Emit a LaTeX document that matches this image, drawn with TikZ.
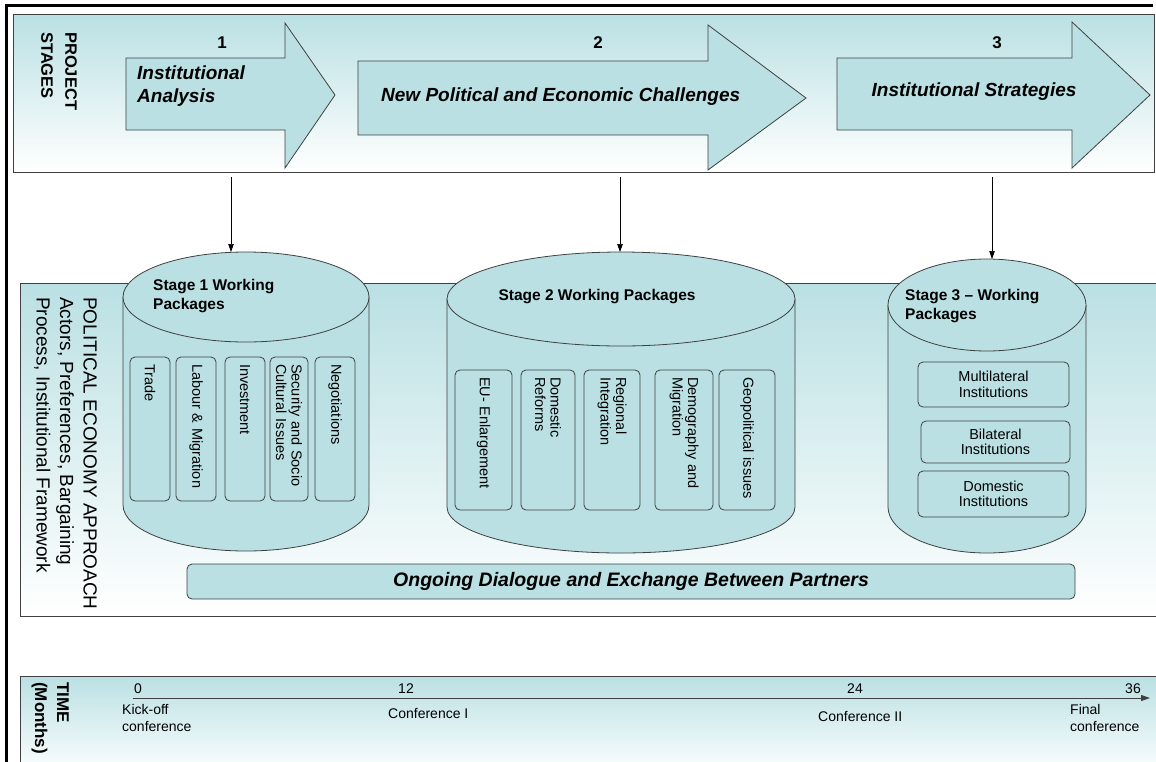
\documentclass[tikz,border=0pt]{standalone}
\usepackage{fontspec}
\setmainfont{Liberation Sans}
\usetikzlibrary{arrows.meta,positioning}

\definecolor{paleblue}{RGB}{186,224,227}
\definecolor{edgegray}{RGB}{64,64,64}

\tikzset{
  panel/.style={draw=edgegray, line width=0.9pt, top color=paleblue, bottom color=white},
  shapefill/.style={draw=edgegray, fill=paleblue, line width=0.8pt},
  pkg/.style={shapefill, rounded corners=5pt, inner sep=2pt, font=\fontsize{14.5}{15.5}\selectfont},
  vpkg/.style={pkg, rotate=-90, align=left, inner xsep=7pt},
  sidetext/.style={rotate=-90, anchor=north west, align=left, inner sep=0pt},
  stagetext/.style={font=\fontsize{19}{22.5}\selectfont\bfseries\itshape, inner sep=0pt},
  stagenum/.style={font=\fontsize{17}{20}\selectfont\bfseries, inner sep=0pt},
  drumtitle/.style={font=\fontsize{15.5}{18.5}\selectfont\bfseries, align=left, inner sep=0pt},
  timetext/.style={font=\fontsize{14}{17}\selectfont, align=left, inner sep=0pt},
  flow/.style={-{Triangle[length=8pt,width=5.5pt]}, line width=0.7pt},
}

\begin{document}
\begin{tikzpicture}[x=1pt,y=-1pt]
  \useasboundingbox (0,0) rectangle (1156,761);
  \clip (0,0) rectangle (1156,761);

  % the three bands
  \draw[panel] (13,14) rectangle (1154,172);
  \draw[panel] (20,283) rectangle (1170,616);
  \draw[panel] (20,676) rectangle (1170,775);
  \draw[line width=3pt] (6,770) -- (6,5) -- (1153,5);

  % project stages
  \node[sidetext, font=\fontsize{16.5}{24}\selectfont\bfseries] (stages) at (77,32) {PROJECT\\STAGES};

  \draw[shapefill] (126,58) -- (285,58) -- (285,23) -- (335,95) -- (285,168) -- (285,130) -- (126,130) -- cycle;
  \draw[shapefill] (358,61) -- (708,61) -- (708,25) -- (806,98) -- (708,170) -- (708,135) -- (358,135) -- cycle;
  \draw[shapefill] (837,58) -- (1072,58) -- (1072,22) -- (1150,95) -- (1072,168) -- (1072,130) -- (837,130) -- cycle;

  \node[stagenum] (num1) at (222,43) {1};
  \node[stagenum] (num2) at (598,43) {2};
  \node[stagenum] (num3) at (997,43) {3};
  \node[stagetext, anchor=west, align=left] (analysis) at (137,86) {Institutional\\Analysis};
  \node[stagetext, anchor=west] (challenges) at (381,97) {New Political and Economic Challenges};
  \node[stagetext] (strategies) at (974,92) {Institutional Strategies};

  % political economy band
  \node[sidetext, font=\fontsize{19}{23.5}\selectfont] (approach) at (97,297)
    {POLITICAL ECONOMY APPROACH\\Actors, Preferences, Bargaining\\Process, Institutional Framework};

  % stage 1 drum
  \draw[shapefill] (123,297) -- (123,505) arc[start angle=180, end angle=0, x radius=123, y radius=46] -- (369,297);
  \draw[shapefill] (246,297) ellipse [x radius=123, y radius=45];
  \node[drumtitle, anchor=west] (title1) at (153,296) {Stage 1 Working\\Packages};
  \node[vpkg, text width=130pt, minimum height=40pt] (trade) at (150,429) {Trade};
  \node[vpkg, text width=130pt, minimum height=40pt] (labour) at (196,429) {Labour \& Migration};
  \node[vpkg, text width=130pt, minimum height=40pt] (invest) at (245,429) {Investment};
  \node[vpkg, text width=130pt, minimum height=38pt] (security) at (289,429) {Security and Socio\\Cultural Issues};
  \node[vpkg, text width=130pt, minimum height=40pt] (negot) at (335,429) {Negotiations};

  % stage 2 drum
  \draw[shapefill] (447,299) -- (447,507) arc[start angle=180, end angle=0, x radius=174, y radius=46] -- (795,299);
  \draw[shapefill] (621,299) ellipse [x radius=174, y radius=47];
  \node[drumtitle] (title2) at (597,297) {Stage 2 Working Packages};
  \node[vpkg, text width=126pt, minimum height=57pt] (eu) at (483.5,440) {EU- Enlargement};
  \node[vpkg, text width=126pt, minimum height=54pt] (reforms) at (548,440) {Domestic\\Reforms};
  \node[vpkg, text width=126pt, minimum height=56pt] (regional) at (612,440) {Regional\\Integration};
  \node[vpkg, text width=126pt, minimum height=58pt] (demo) at (684,440) {Demography and\\Migration};
  \node[vpkg, text width=126pt, minimum height=56pt] (geo) at (747,440) {Geopolitical issues};

  % stage 3 drum
  \draw[shapefill] (888,305) -- (888,507) arc[start angle=180, end angle=0, x radius=99, y radius=46] -- (1086,305);
  \draw[shapefill] (987,305) ellipse [x radius=99, y radius=46];
  \node[drumtitle, anchor=west] (title3) at (905,306) {Stage 3 – Working\\Packages};
  \node[pkg, align=center, minimum width=151pt, minimum height=45pt] (multi) at (993.5,384.5) {Multilateral\\Institutions};
  \node[pkg, align=center, minimum width=149pt, minimum height=42pt] (bilat) at (995.5,442) {Bilateral\\Institutions};
  \node[pkg, align=center, minimum width=151pt, minimum height=46pt] (domestic) at (993.5,494) {Domestic\\Institutions};

  \node[pkg, minimum width=888pt, minimum height=35pt, font=\fontsize{19.5}{22}\selectfont\bfseries\itshape] (dialogue) at (631,581.5)
    {Ongoing Dialogue and Exchange Between Partners};

  % stages feed the drums
  \coordinate (s1) at (231,177);
  \coordinate (s2) at (620,177);
  \coordinate (s3) at (992,177);
  \coordinate (d1) at (231,252);
  \coordinate (d2) at (620,252);
  \coordinate (d3) at (992,259);
  \draw[flow] (s1) -- (d1);
  \draw[flow] (s2) -- (d2);
  \draw[flow] (s3) -- (d3);

  % time band
  \node[sidetext, font=\fontsize{17}{22}\selectfont\bfseries] (time) at (69,682) {TIME\\(Months)};
  \coordinate (t0) at (133,698);
  \coordinate (t36) at (1150,698);
  \draw[-{Triangle[length=9pt,width=6pt]}, line width=1pt, draw=edgegray] (t0) -- (t36);

  \node[timetext] (m0) at (138,689) {0};
  \node[timetext] (m12) at (406,689) {12};
  \node[timetext] (m24) at (855,689) {24};
  \node[timetext] (m36) at (1133,689) {36};
  \node[timetext, anchor=north west] (kick) at (122,704) {Kick-off\\conference};
  \node[timetext, anchor=north west] (conf1) at (388,708) {Conference I};
  \node[timetext, anchor=north west] (conf2) at (818,711) {Conference II};
  \node[timetext, anchor=north west] (final) at (1070,704) {Final\\conference};
\end{tikzpicture}
\end{document}
